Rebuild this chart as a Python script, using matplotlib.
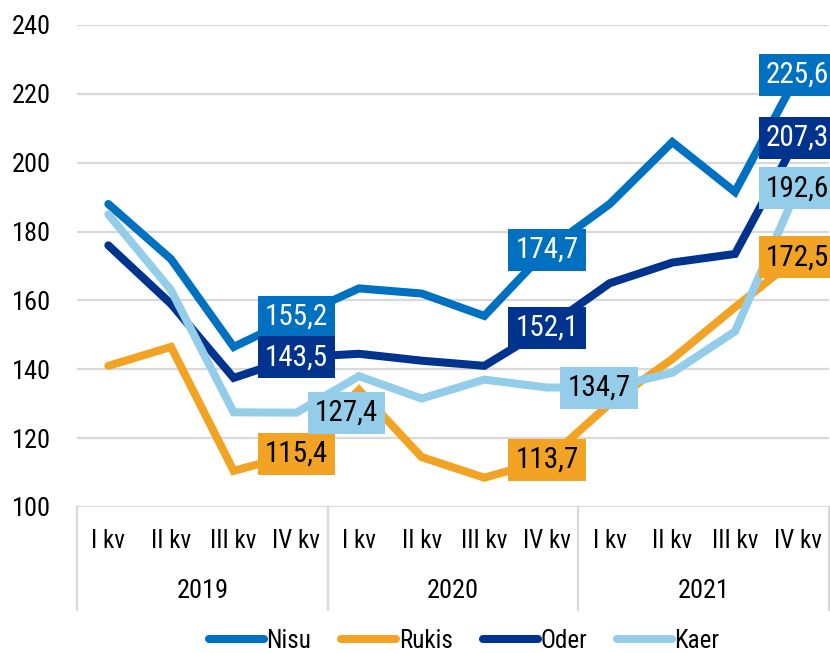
import matplotlib
matplotlib.use("Agg")
import matplotlib.pyplot as plt
from matplotlib import font_manager as fm
import matplotlib.transforms as mtrans

names = {f.name for f in fm.fontManager.ttflist}
fam = [n for n in ["Liberation Sans Narrow", "Roboto Condensed", "Roboto", "DejaVu Sans"] if n in names]
plt.rcParams['font.family'] = fam

quarters = ["I kv", "II kv", "III kv", "IV kv"]
years = ["2019", "2020", "2021"]
series_names = ["Nisu", "Rukis", "Oder", "Kaer"]
nisu = [188.0, 172.0, 146.5, 155.2, 163.5, 162.0, 155.5, 174.7, 188.0, 206.0, 191.5, 225.6]
rukis = [141.0, 146.5, 110.5, 115.4, 134.0, 114.5, 108.5, 113.7, 130.0, 143.0, 158.0, 172.5]
oder = [176.0, 159.0, 137.5, 143.5, 144.5, 142.5, 141.0, 152.1, 165.0, 171.0, 173.5, 207.3]
kaer = [185.0, 163.0, 127.5, 127.4, 138.0, 131.5, 137.0, 134.7, 134.7, 139.0, 151.0, 192.6]
colors = ["#0070C0", "#F2A324", "#00338D", "#93CDEA"]
text_colors = ["white", "black", "white", "black"]
label_idx = [3, 7, 11]

data = [nisu, rukis, oder, kaer]

fig = plt.figure(figsize=(8.3, 6.53), dpi=100)
ax = fig.add_axes([77/830, 1-507/653, 752/830, (507-25)/653])
n = len(nisu)
x = list(range(n))
ax.set_xlim(-0.5, n-0.5)
ax.set_ylim(100, 240)
ax.set_yticks(range(100, 241, 20))
ax.tick_params(axis='y', length=0, labelsize=19, pad=19)
ax.set_xticks([])
for s in ax.spines.values():
    s.set_visible(False)
ax.grid(axis='y', color="#D9D9D9", lw=1.6)
ax.set_axisbelow(True)

for vals, c, nm in zip(data, colors, series_names):
    ax.plot(x, vals, color=c, lw=5.8, solid_capstyle='round', solid_joinstyle='miter', label=nm, zorder=3)

offsets = {(3, 3): 0.8, (3, 7): 0.83}
for si, (vals, c, tc) in enumerate(zip(data, colors, text_colors)):
    for i in label_idx:
        dx = offsets.get((si, i), 0.0)
        txt = f"{vals[i]:.1f}".replace(".", ",")
        ax.text(i + dx, vals[i], txt, ha='center', va='center', fontsize=21, color=tc, zorder=5,
                bbox=dict(boxstyle='square,pad=0.24', fc=c, ec='none'), clip_on=False)

tr = mtrans.blended_transform_factory(ax.transData, fig.transFigure)
for i in range(n):
    ax.text(i, 1-541/653, quarters[i % 4], transform=tr, ha='center', va='center', fontsize=18)
for j, y in enumerate(years):
    ax.text(j*4+1.5, 1-591/653, y, transform=tr, ha='center', va='center', fontsize=19)
for b in [-0.5, 3.5, 7.5, 11.5]:
    ax.plot([b, b], [1-507/653, 1-610/653], transform=tr, color="#D9D9D9", lw=1.6, clip_on=False)

leg = fig.legend(loc='center', bbox_to_anchor=(464/830, 1-641/653), ncol=4, frameon=False,
                 fontsize=18, handlelength=2.2, handletextpad=0.1, columnspacing=1.2)
for h in leg.get_lines():
    h.set_linewidth(5.8)
    h.set_solid_capstyle('round')

fig.savefig("out.png", dpi=100)
